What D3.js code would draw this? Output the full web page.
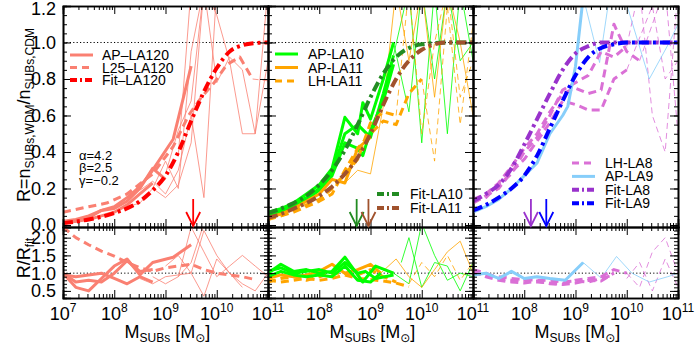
<!DOCTYPE html>
<html>
<head>
<meta charset="utf-8">
<script src="https://cdn.jsdelivr.net/npm/d3@7"></script>
<style>
body { margin: 0; background: #fff; }
svg { font-family: "Liberation Sans", Arial, sans-serif; }
</style>
</head>
<body>
<div id="chart"></div>
<script>
// values are [log10 M, R]

// ---- panel 1 : LA120
var fitLA120 = [[7.0,0.01],[7.5,0.03],[8.0,0.065],[8.5,0.13],[8.75,0.19],[9.0,0.27],[9.25,0.4],[9.5,0.57],[9.75,0.73],[10.0,0.86],[10.25,0.95],[10.5,0.985],[10.75,0.997],[11.0,1.0]];
var apLA120 = [
  [[7.0,0.02],[7.25,0.03],[7.5,0.05],[7.75,0.08],[8.0,0.1],[8.25,0.15],[8.5,0.21],[8.7,0.28],[9.15,0.47],[9.5,0.87]],
  [[7.0,0.01],[7.25,0.02],[7.5,0.04],[7.75,0.08],[8.0,0.09],[8.25,0.13],[8.5,0.2],[8.75,0.31],[9.0,0.25]],
  [[7.0,0.01],[7.25,0.02],[7.5,0.03],[7.75,0.05],[8.0,0.07],[8.25,0.11],[8.5,0.17],[8.75,0.23]]
];
var apLA120thin = [
  [[8.5,0.19],[8.75,0.24],[9.0,0.17],[9.25,0.3],[9.5,0.6],[9.75,0.15],[10.0,1.3]],
  [[8.75,0.2],[9.0,0.15],[9.25,0.22],[9.5,0.45],[9.75,1.3]],
  [[9.0,0.28],[9.25,0.52],[9.5,0.68],[9.75,1.3],[10.0,1.15],[10.25,0.9],[10.5,0.5],[10.75,0.5],[11.0,0.9]],
  [[9.25,0.38],[9.5,1.3],[9.75,1.3],[10.0,0.78],[10.25,0.92],[10.5,0.85],[10.75,0.5],[11.0,1.3]],
  [[8.25,0.1],[8.5,0.12],[8.75,0.2],[9.0,0.35],[9.25,0.2],[9.5,0.95],[9.75,1.3]]
];
var l25LA120 = [[7.0,0.07],[7.5,0.1],[7.85,0.12],[8.25,0.17],[8.75,0.28],[9.15,0.43],[9.45,0.6],[9.7,0.7],[9.95,0.78],[10.2,0.88],[10.45,0.92],[10.7,0.8]];
var l25LA120thin = [[10.7,0.8],[11.0,0.79]];

var ratioAP120 = [
  [[7.0,1.0],[7.25,0.6],[7.5,0.5],[7.75,0.85],[8.0,1.2],[8.25,1.4],[8.5,0.95],[8.75,1.3],[9.15,1.45],[9.5,1.8]],
  [[7.0,1.0],[7.25,0.75],[7.5,0.8],[7.75,0.75],[8.0,1.0],[8.25,1.35],[8.5,1.05],[8.75,1.1]],
  [[7.0,0.95],[7.25,0.9],[7.5,0.95],[7.75,1.0],[8.0,0.85],[8.25,0.7],[8.5,0.9],[8.75,0.75]]
];
var ratioAP120thin = [
  [[8.75,0.9],[9.0,0.7],[9.25,0.9],[9.5,1.3],[9.75,2.4]],
  [[9.0,1.2],[9.25,1.5],[9.5,1.0],[9.75,2.2],[10.0,1.5],[10.25,1.0],[10.5,0.7],[10.75,0.5],[11.0,1.0]],
  [[9.25,0.9],[9.5,2.3],[9.75,1.6],[10.0,0.9],[10.25,1.2],[10.5,1.5],[10.75,1.2],[11.0,0.9]],
  [[8.5,0.85],[8.75,0.7],[9.0,0.9],[9.5,1.0],[9.75,0.35],[10.0,1.4],[10.25,1.0],[10.5,0.6]]
];
var ratioL25 = [[7.0,2.3],[7.25,2.0],[7.5,1.8],[7.75,1.62],[8.0,1.48],[8.25,1.3],[8.5,1.15],[8.75,1.05],[9.0,1.15],[9.25,1.2],[9.5,1.25],[9.75,1.1],[10.0,1.0],[10.25,0.95],[10.5,0.9],[10.75,0.82]];

// ---- panel 2 : LA10 / LA11
var fitLA10 = [[7.0,0.065],[7.25,0.09],[7.5,0.12],[7.75,0.16],[8.0,0.22],[8.25,0.3],[8.5,0.41],[8.75,0.55],[9.0,0.7],[9.25,0.83],[9.5,0.92],[9.75,0.97],[10.0,0.99],[10.5,1.0],[11.0,1.0]];
var fitLA11 = [[7.0,0.04],[7.25,0.06],[7.5,0.09],[7.75,0.12],[8.0,0.16],[8.25,0.21],[8.5,0.28],[8.75,0.37],[9.0,0.5],[9.25,0.66],[9.5,0.8],[9.75,0.9],[10.0,0.96],[10.25,0.99],[10.5,1.0],[11.0,1.0]];
var apLA10 = [
  [[7.0,0.07],[7.25,0.09],[7.5,0.12],[7.75,0.17],[8.0,0.22],[8.25,0.31],[8.5,0.59],[8.75,0.5],[8.85,0.67],[9.0,0.58],[9.25,0.8],[9.45,1.0]],
  [[7.0,0.06],[7.25,0.08],[7.5,0.11],[7.75,0.15],[8.0,0.2],[8.25,0.29],[8.5,0.5],[8.75,0.55],[9.0,0.48],[9.25,0.72],[9.45,0.93]],
  [[7.0,0.05],[7.25,0.07],[7.5,0.1],[7.75,0.14],[8.0,0.19],[8.25,0.27],[8.5,0.45],[8.75,0.42],[8.85,0.38],[9.0,0.52],[9.25,0.68],[9.45,0.88]]
];
var apLA10thin = [
  [[9.45,1.0],[9.75,0.62],[10.0,1.3],[10.25,0.8],[10.5,1.3],[10.75,0.9],[11.0,1.0]],
  [[9.45,0.93],[9.75,1.3],[10.0,0.45],[10.25,1.3],[10.5,0.5],[10.75,1.3],[11.0,0.9]]
];
var apLA11 = [[7.0,0.04],[7.25,0.06],[7.5,0.09],[7.75,0.13],[8.0,0.17],[8.25,0.25],[8.5,0.23],[8.75,0.42],[9.0,0.48]];
var apLA11thin = [[8.5,0.23],[8.75,0.3],[9.0,0.28],[9.25,0.65],[9.5,1.3],[9.75,0.9],[10.0,1.3],[10.25,0.7],[10.5,1.3],[10.75,1.0],[11.0,0.6]];
var lhLA11 = [
  [[7.0,0.04],[7.25,0.05],[7.5,0.07],[7.75,0.1],[8.0,0.13],[8.25,0.17],[8.5,0.3],[8.75,0.42],[9.0,0.5],[9.25,0.57],[9.5,0.55],[9.75,0.72],[10.0,0.8]],
  [[7.0,0.03],[7.25,0.05],[7.5,0.08],[7.75,0.11],[8.0,0.14],[8.25,0.2],[8.5,0.28],[8.75,0.36],[9.0,0.56],[9.25,0.62],[9.5,0.6]]
];
var lhLA11thin = [
  [[9.5,0.6],[9.75,1.3],[10.0,0.5],[10.25,1.0],[10.5,1.3],[10.75,0.7],[11.0,0.9]],
  [[10.0,0.8],[10.25,0.35],[10.5,1.2],[10.75,0.55],[11.0,1.1]]
];

var ratioAP10 = [
  [[7.0,1.0],[7.25,1.25],[7.5,1.05],[7.75,1.1],[8.0,1.0],[8.25,1.05],[8.5,1.45],[8.75,0.95],[8.85,0.75],[9.1,1.2],[9.45,1.0]],
  [[7.0,1.05],[7.25,1.15],[7.5,1.0],[7.75,1.05],[8.0,1.1],[8.25,1.0],[8.5,1.3],[8.75,1.0],[8.9,1.05],[9.1,0.85],[9.45,0.95]],
  [[7.0,0.9],[7.25,1.05],[7.5,0.95],[7.75,0.9],[8.0,0.95],[8.25,0.9],[8.5,1.2],[8.75,0.8],[9.0,0.75],[9.2,1.0]]
];
var ratioAP10thin = [
  [[9.45,1.0],[9.75,0.7],[10.0,2.4],[10.25,1.5],[10.5,0.8],[10.75,1.0],[11.0,0.9]],
  [[9.6,1.3],[9.75,2.0],[10.0,0.6],[10.25,1.3],[10.5,1.2],[10.75,0.5],[11.0,1.3]]
];
var ratioAP11 = [[7.0,0.85],[7.25,0.95],[7.5,0.9],[7.75,0.95],[8.0,1.05],[8.25,1.25],[8.5,1.0],[8.75,1.1],[9.0,1.25],[9.2,1.0]];
var ratioAP11thin = [[9.2,1.0],[9.5,1.4],[9.75,0.9],[10.0,0.6],[10.25,1.1],[10.5,1.6],[10.75,1.9],[11.0,1.0]];
var ratioLH11 = [
  [[7.0,0.8],[7.25,0.75],[7.5,0.8],[7.75,0.85],[8.0,0.8],[8.25,0.85],[8.5,0.95],[8.75,0.85],[9.0,0.82],[9.25,0.78],[9.5,0.72],[9.75,0.62]],
  [[7.0,0.75],[7.25,0.85],[7.5,0.9],[7.75,0.8],[8.0,0.9],[8.25,1.0],[8.5,1.0],[8.75,0.95],[9.0,1.1],[9.25,0.9],[9.5,0.75]]
];
var ratioLH11thin = [[9.75,0.7],[10.0,1.3],[10.25,0.9],[10.5,1.5],[10.75,0.8],[11.0,1.3]];

// ---- panel 3 : LA8 / LA9
var fitLA8 = [[7.0,0.13],[7.25,0.17],[7.5,0.22],[7.75,0.31],[8.0,0.44],[8.25,0.58],[8.5,0.72],[8.75,0.85],[9.0,0.94],[9.25,0.98],[9.5,1.0],[11.0,1.0]];
var fitLA9 = [[7.0,0.08],[7.25,0.11],[7.5,0.15],[7.75,0.2],[8.0,0.27],[8.25,0.38],[8.5,0.53],[8.75,0.68],[9.0,0.82],[9.25,0.92],[9.5,0.97],[9.75,0.99],[10.0,1.0],[11.0,1.0]];
var apLA9 = [[7.0,0.07],[7.25,0.1],[7.5,0.14],[7.75,0.2],[8.0,0.27],[8.25,0.34],[8.5,0.5],[8.75,0.6],[8.85,0.65],[9.0,0.87],[9.15,1.25]];
var apLA9thin = [[9.15,1.25],[9.47,0.89],[9.66,1.25],[9.9,1.3],[10.44,0.8],[10.83,1.0],[11.0,1.1]];
var lhLA8 = [
  [[7.0,0.14],[7.25,0.17],[7.5,0.23],[7.75,0.32],[8.0,0.42],[8.25,0.5],[8.5,0.62],[8.75,0.72],[9.0,0.75],[9.25,0.72],[9.5,0.74],[9.75,1.1],[10.0,0.95],[10.25,0.9]],
  [[7.0,0.12],[7.25,0.16],[7.5,0.2],[7.75,0.29],[8.0,0.36],[8.25,0.46],[8.5,0.56],[8.75,0.68],[9.0,0.66],[9.25,0.63],[9.5,0.63],[9.75,0.8],[10.0,0.85]],
  [[7.0,0.13],[7.25,0.15],[7.5,0.22],[7.75,0.28],[8.0,0.4],[8.25,0.48],[8.5,0.6],[8.75,0.74],[9.0,0.78],[9.25,0.82],[9.5,0.95],[9.75,0.92],[10.0,0.98]]
];
var lhLA8thin = [
  [[10.0,0.98],[10.25,1.3],[10.5,0.6],[10.75,0.4],[11.0,1.3]],
  [[10.0,0.85],[10.5,1.2],[10.75,0.8],[11.0,0.9]],
  [[10.25,0.9],[10.75,1.3],[11.0,0.5]]
];

var ratioAP9 = [[7.0,0.95],[7.25,1.0],[7.5,0.85],[7.75,1.05],[8.0,0.85],[8.25,0.9],[8.5,0.85],[8.8,0.8],[9.15,1.3]];
var ratioAP9thin = [[9.15,1.3],[9.5,0.86],[9.8,1.47],[10.1,1.0],[10.44,0.75],[10.8,0.9],[11.0,1.0]];
var ratioLH8 = [
  [[7.0,1.1],[7.25,1.0],[7.5,0.85],[7.75,0.8],[8.0,0.8],[8.25,0.75],[8.5,0.72],[8.75,0.7],[9.0,0.8],[9.25,0.85],[9.5,0.9],[9.75,1.1],[10.0,1.0]],
  [[7.0,1.0],[7.25,0.95],[7.5,0.9],[7.75,0.85],[8.0,0.82],[8.25,0.8],[8.5,0.8],[8.75,0.75],[9.0,0.78],[9.25,0.75],[9.5,0.85],[9.75,0.95]],
  [[7.0,1.05],[7.25,0.9],[7.5,0.8],[7.75,0.75],[8.0,0.72],[8.25,0.78],[8.5,0.7],[8.75,0.68],[9.0,0.72],[9.25,0.8],[9.5,0.78],[9.75,1.0]]
];
var ratioLH8thin = [
  [[10.0,1.0],[10.25,0.6],[10.5,1.6],[10.75,2.0],[11.0,1.0]],
  [[10.0,0.85],[10.25,1.3],[10.5,0.5],[10.75,1.4],[11.0,0.6]]
];

// half-mode masses (arrows), log10 M
var arrowsLA120 = [9.54];
var arrowsP2 = [8.73, 8.96];
var arrowsP3 = [8.13, 8.43];

var yTopTicks = [0.0, 0.2, 0.4, 0.6, 0.8, 1.0, 1.2];
var yBotTicks = [0.5, 1.0, 1.5, 2.0];

var C = {
  salmon: "#fa8072", red: "#ff0000",
  lime: "#00ff00", orange: "#ffa500", fgreen: "#228b22", sienna: "#a0522d",
  orchid: "#da70d6", sky: "#87cefa", dorchid: "#9932cc", blue: "#0000ff"
};

var S = {
  thick: {w: 3, dash: null},
  thin: {w: 0.8, dash: null},
  dash: {w: 3, dash: "8,5"},
  thindash: {w: 0.8, dash: "6,4"},
  fit: {w: 4, dash: "10,4,3,4"}
};

var panels = [
  {
    top: [
      {lines: apLA120thin, c: C.salmon, s: "thin"},
      {lines: [l25LA120thin], c: C.salmon, s: "thindash"},
      {lines: apLA120, c: C.salmon, s: "thick"},
      {lines: [l25LA120], c: C.salmon, s: "dash"},
      {lines: [fitLA120], c: C.red, s: "fit", smooth: true}
    ],
    bot: [
      {lines: ratioAP120thin, c: C.salmon, s: "thin"},
      {lines: ratioAP120, c: C.salmon, s: "thick"},
      {lines: [ratioL25], c: C.salmon, s: "dash"}
    ],
    arrows: [{m: arrowsLA120[0], c: C.red}],
    labels: [7, 8, 9, 10, 11]
  },
  {
    top: [
      {lines: apLA10thin, c: C.lime, s: "thin"},
      {lines: [apLA11thin], c: C.orange, s: "thin"},
      {lines: lhLA11thin, c: C.orange, s: "thindash"},
      {lines: apLA10, c: C.lime, s: "thick"},
      {lines: [apLA11], c: C.orange, s: "thick"},
      {lines: lhLA11, c: C.orange, s: "dash"},
      {lines: [fitLA10], c: C.fgreen, s: "fit", smooth: true},
      {lines: [fitLA11], c: C.sienna, s: "fit", smooth: true}
    ],
    bot: [
      {lines: ratioAP10thin, c: C.lime, s: "thin"},
      {lines: [ratioAP11thin], c: C.orange, s: "thin"},
      {lines: [ratioLH11thin], c: C.orange, s: "thindash"},
      {lines: [ratioAP11], c: C.orange, s: "thick"},
      {lines: ratioLH11, c: C.orange, s: "dash"},
      {lines: ratioAP10, c: C.lime, s: "thick"}
    ],
    arrows: [{m: arrowsP2[0], c: C.fgreen}, {m: arrowsP2[1], c: C.sienna}],
    labels: [8, 9, 10, 11]
  },
  {
    top: [
      {lines: lhLA8thin, c: C.orchid, s: "thindash"},
      {lines: [apLA9thin], c: C.sky, s: "thin"},
      {lines: lhLA8, c: C.orchid, s: "dash"},
      {lines: [apLA9], c: C.sky, s: "thick"},
      {lines: [fitLA8], c: C.dorchid, s: "fit", smooth: true},
      {lines: [fitLA9], c: C.blue, s: "fit", smooth: true}
    ],
    bot: [
      {lines: ratioLH8thin, c: C.orchid, s: "thindash"},
      {lines: [ratioAP9thin], c: C.sky, s: "thin"},
      {lines: ratioLH8, c: C.orchid, s: "dash"},
      {lines: [ratioAP9], c: C.sky, s: "thick"}
    ],
    arrows: [{m: arrowsP3[0], c: C.dorchid}, {m: arrowsP3[1], c: C.blue}],
    labels: [8, 9, 10, 11]
  }
];

var W = 700, H = 350;
var svg = d3.select("#chart").append("svg").attr("width", W).attr("height", H);
var defs = svg.append("defs");

var panelLeft = [63, 268, 473], panelW = 205;
var yTop = d3.scaleLinear().domain([-0.011, 1.2]).range([227, 6]);
var yBot = d3.scaleLinear().domain([0.3, 2.3]).range([298, 227]);

var minorX = [];
for (var e = 7; e < 11; e++) for (var k = 2; k < 10; k++) minorX.push(k * Math.pow(10, e));
var majorX = [1e7, 1e8, 1e9, 1e10, 1e11];

panels.forEach(function(p, i) {
  var x0 = panelLeft[i];
  var x = d3.scaleLog().domain([1e7, 1e11]).range([x0, x0 + panelW]);

  [["top", yTop], ["bot", yBot]].forEach(function(part) {
    var y = part[1], key = part[0];
    var r = y.range();
    var id = "clip" + i + key;
    defs.append("clipPath").attr("id", id).append("rect")
      .attr("x", x0).attr("y", r[1]).attr("width", panelW).attr("height", r[0] - r[1]);

    var g = svg.append("g").attr("clip-path", "url(#" + id + ")");

    // reference line R=1
    g.append("line")
      .attr("x1", x0).attr("x2", x0 + panelW)
      .attr("y1", y(1)).attr("y2", y(1))
      .attr("stroke", "#000").attr("stroke-width", 1).attr("stroke-dasharray", "1.2,2.2");

    p[key].forEach(function(sr) {
      var st = S[sr.s];
      var line = d3.line()
        .x(function(d) { return x(Math.pow(10, d[0])); })
        .y(function(d) { return y(d[1]); })
        .curve(sr.smooth ? d3.curveMonotoneX : d3.curveLinear);
      sr.lines.forEach(function(l) {
        g.append("path").attr("d", line(l))
          .attr("fill", "none").attr("stroke", sr.c)
          .attr("stroke-width", st.w)
          .attr("stroke-linejoin", "round")
          .attr("stroke-dasharray", st.dash);
      });
    });

    // axes: ticks inside on all four sides
    var ax = svg.append("g");
    ax.append("g").attr("transform", "translate(0," + r[0] + ")")
      .call(d3.axisBottom(x).tickValues(majorX).tickSize(-8).tickFormat(""));
    ax.append("g").attr("transform", "translate(0," + r[0] + ")")
      .call(d3.axisBottom(x).tickValues(minorX).tickSize(-4).tickFormat(""));
    ax.append("g").attr("transform", "translate(0," + r[1] + ")")
      .call(d3.axisTop(x).tickValues(majorX).tickSize(-8).tickFormat(""));
    ax.append("g").attr("transform", "translate(0," + r[1] + ")")
      .call(d3.axisTop(x).tickValues(minorX).tickSize(-4).tickFormat(""));

    var majY = key == "top" ? yTopTicks : yBotTicks;
    var minY = key == "top" ? d3.range(0, 1.201, 0.05) : d3.range(0.3, 2.301, 0.1);
    [x0, x0 + panelW].forEach(function(xx, side) {
      var axis = side == 0 ? d3.axisLeft : d3.axisRight;
      ax.append("g").attr("transform", "translate(" + xx + ",0)")
        .call(axis(y).tickValues(majY).tickSize(-8).tickFormat(""));
      ax.append("g").attr("transform", "translate(" + xx + ",0)")
        .call(axis(y).tickValues(minY).tickSize(-4).tickFormat(""));
    });
    ax.selectAll("path.domain").attr("stroke-width", 1.6);
    ax.selectAll(".tick line").attr("stroke-width", 1);

    if (i == 0) {
      majY.forEach(function(v) {
        svg.append("text").attr("x", 56).attr("y", Math.max(y(v), 9))
          .attr("dy", "0.36em").attr("text-anchor", "end")
          .attr("font-size", 18).text(v.toFixed(1));
      });
    }
  });

  // arrows at the half-mode masses
  p.arrows.forEach(function(a) {
    var ax = x(Math.pow(10, a.m));
    var ga = svg.append("g").attr("stroke", a.c).attr("stroke-width", 1.8).attr("fill", "none");
    ga.append("line").attr("x1", ax).attr("x2", ax).attr("y1", 199).attr("y2", 226);
    ga.append("polyline").attr("points", (ax - 7) + ",212 " + ax + ",226 " + (ax + 7) + ",212");
  });

  // x tick labels
  p.labels.forEach(function(ex) {
    var t = svg.append("text").attr("x", x(Math.pow(10, ex))).attr("y", 320)
      .attr("text-anchor", "middle").attr("font-size", 18);
    t.append("tspan").text("10");
    t.append("tspan").attr("dy", -8).attr("font-size", 12).text(ex);
  });

  // x axis title
  var xt = svg.append("text").attr("x", x0 + panelW / 2 + 2).attr("y", 338)
    .attr("text-anchor", "middle").attr("font-size", 18);
  xt.append("tspan").text("M");
  xt.append("tspan").attr("dy", 4).attr("font-size", 12).text("SUBs");
  xt.append("tspan").attr("dy", -4).text(" [M");
  xt.append("tspan").attr("dy", 4).attr("font-size", 12).attr("font-family", "DejaVu Sans").text("\u2299");
  xt.append("tspan").attr("dy", -4).text("]");
});

// y axis titles
var yl = svg.append("text").attr("transform", "translate(30,115) rotate(-90)")
  .attr("text-anchor", "middle").attr("font-size", 18);
yl.append("tspan").text("R=n");
yl.append("tspan").attr("dy", 4).attr("font-size", 12).text("SUBs,WDM");
yl.append("tspan").attr("dy", -4).text("/n");
yl.append("tspan").attr("dy", 4).attr("font-size", 12).text("SUBs,CDM");

var yl2 = svg.append("text").attr("transform", "translate(30,258) rotate(-90)")
  .attr("text-anchor", "middle").attr("font-size", 18);
yl2.append("tspan").text("R/R");
yl2.append("tspan").attr("dy", 4).attr("font-size", 12).text("fit");

// legends
function legend(items, lx, tx, y0, dy) {
  items.forEach(function(it, j) {
    var yy = y0 + j * dy;
    var st = S[it.s];
    svg.append("line").attr("x1", lx).attr("x2", lx + 23).attr("y1", yy).attr("y2", yy)
      .attr("stroke", it.c).attr("stroke-width", st.w).attr("stroke-dasharray", it.s == "fit" ? "7,3,2,3" : (st.dash ? "7,5" : null));
    svg.append("text").attr("x", tx).attr("y", yy).attr("dy", "0.36em")
      .attr("font-size", 14).text(it.t);
  });
}
legend([
  {t: "AP\u2013LA120", c: C.salmon, s: "thick"},
  {t: "L25\u2013LA120", c: C.salmon, s: "dash"},
  {t: "Fit\u2013LA120", c: C.red, s: "fit"}
], 70, 102, 55, 12.5);
legend([
  {t: "AP-LA10", c: C.lime, s: "thick"},
  {t: "AP-LA11", c: C.orange, s: "thick"},
  {t: "LH-LA11", c: C.orange, s: "dash"}
], 275, 308, 54, 13.5);
legend([
  {t: "Fit-LA10", c: C.fgreen, s: "fit"},
  {t: "Fit-LA11", c: C.sienna, s: "fit"}
], 377, 410, 194, 14);
legend([
  {t: "LH-LA8", c: C.orchid, s: "dash"},
  {t: "AP-LA9", c: C.sky, s: "thick"},
  {t: "Fit-LA8", c: C.dorchid, s: "fit"},
  {t: "Fit-LA9", c: C.blue, s: "fit"}
], 572, 605, 163, 13.4);

// fit parameters
["\u03b1=4.2", "\u03b2=2.5", "\u03b3=\u22120.2"].forEach(function(s, j) {
  svg.append("text").attr("x", 79).attr("y", 155 + j * 12.5).attr("dy", "0.36em")
    .attr("font-size", 13).text(s);
});
</script>
</body>
</html>
